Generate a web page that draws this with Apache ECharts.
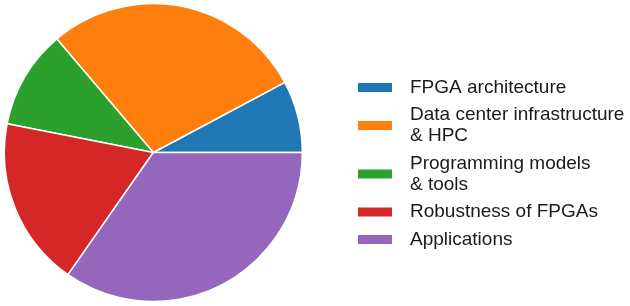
<!DOCTYPE html>
<html>
<head>
<meta charset="utf-8">
<script src="https://cdn.jsdelivr.net/npm/echarts@6/dist/echarts.min.js"></script>
<style>
html,body{margin:0;padding:0;background:#fff;}
#chart{width:630px;height:306px;}
</style>
</head>
<body>
<div id="chart"></div>
<script>
const categories = [
  'FPGA architecture',
  'Data center infrastructure\n& HPC',
  'Programming models\n& tools',
  'Robustness of FPGAs',
  'Applications'
];
const shares = [7.8, 28.4, 10.7, 18.4, 34.7];
const colors = ['#1f77b4', '#ff7f0e', '#2ca02c', '#d62728', '#9467bd'];

const chart = echarts.init(document.getElementById('chart'), null, {renderer: 'canvas'});
chart.setOption({
  animation: false,
  color: colors,
  legend: {
    orient: 'vertical',
    left: 356,
    top: 77,
    padding: 0,
    itemGap: 6.5,
    itemWidth: 36,
    itemHeight: 11,
    icon: 'rect',
    selectedMode: false,
    textStyle: {
      fontFamily: 'Liberation Sans, Arial, sans-serif',
      fontSize: 19,
      lineHeight: 21,
      color: '#1a1a1a',
      padding: [0, 0, 0, 12]
    },
    data: categories
  },
  series: [{
    type: 'pie',
    center: [153.3, 152.5],
    radius: [0, 149],
    startAngle: 0,
    clockwise: false,
    label: {show: false},
    labelLine: {show: false},
    emphasis: {disabled: true},
    itemStyle: {borderColor: '#ffffff', borderWidth: 1.5},
    data: categories.map((c, i) => ({name: c, value: shares[i]}))
  }]
});
</script>
</body>
</html>
